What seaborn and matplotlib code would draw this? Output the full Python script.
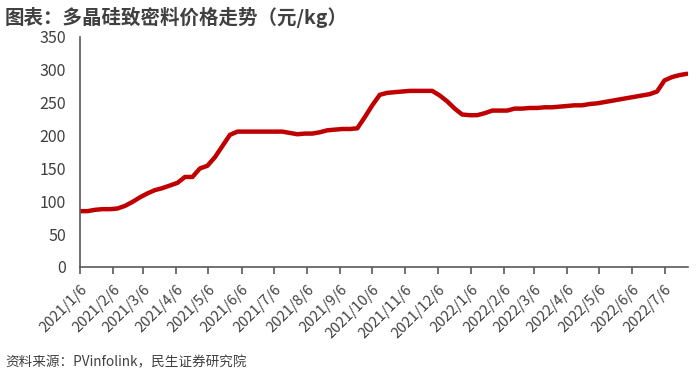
import pandas as pd
import seaborn as sns
import matplotlib.pyplot as plt

# weekly polysilicon price, yuan/kg, starting 2021/1/6
startDate = "2021-01-06"
prices = [85, 85, 87, 88, 88, 89, 93, 99, 106, 112,
          117, 120, 124, 128, 137, 137, 150, 154, 167, 184,
          201, 206, 206, 206, 206, 206, 206, 206, 204, 202,
          203, 203, 205, 208, 209, 210, 210, 211, 228, 246,
          262, 265, 266, 267, 268, 268, 268, 268, 261, 252,
          241, 232, 231, 231, 234, 238, 238, 238, 241, 241,
          242, 242, 243, 243, 244, 245, 246, 246, 248, 249,
          251, 253, 255, 257, 259, 261, 263, 267, 284, 289,
          292, 294]

tickDates = pd.date_range("2021-01-01", periods=19, freq="MS") + pd.Timedelta(days=5)
tickLabels = [f"{d.year}/{d.month}/{d.day}" for d in tickDates]
yTicks = [0, 50, 100, 150, 200, 250, 300, 350]

df = pd.DataFrame({
    "date": pd.date_range(startDate, periods=len(prices), freq="7D"),
    "price": prices,
})

sns.set_theme(style="white")
plt.rcParams['font.family'] = ['Noto Sans CJK SC', 'DejaVu Sans']

fig = plt.figure(figsize=(7, 3.77), dpi=100)
ax = fig.add_axes([0.1143, 0.2918, 0.8687, 0.6101])

sns.lineplot(data=df, x="date", y="price", ax=ax, color="#C00000", linewidth=3.2)

ax.set_ylim(0, 350)
ax.set_yticks(yTicks)
ax.set_xlim(pd.Timestamp(startDate), df["date"].iloc[-1] + pd.Timedelta(days=1))
ax.set_xticks(tickDates)
ax.set_xticklabels(tickLabels, rotation=45, ha="right", rotation_mode="anchor")
ax.set_xlabel("")
ax.set_ylabel("")

for side in ["top", "right"]:
    ax.spines[side].set_visible(False)
for side in ["left", "bottom"]:
    ax.spines[side].set_color("#595959")
    ax.spines[side].set_linewidth(1.2)

ax.tick_params(axis="x", bottom=True, length=5, width=1.2, color="#595959",
               labelsize=10.5, labelcolor="#404040", pad=6)
ax.tick_params(axis="y", left=False, labelsize=11.5, labelcolor="#404040", pad=4)

fig.text(0.007, 0.955, "图表：多晶硅致密料价格走势（元/kg）", fontsize=14,
         fontweight="bold", color="#404040", va="center")
fig.text(0.007, 0.04, "资料来源：PVinfolink，民生证券研究院", fontsize=9.8,
         color="#404040", va="center")

plt.savefig("out.png", dpi=100)
